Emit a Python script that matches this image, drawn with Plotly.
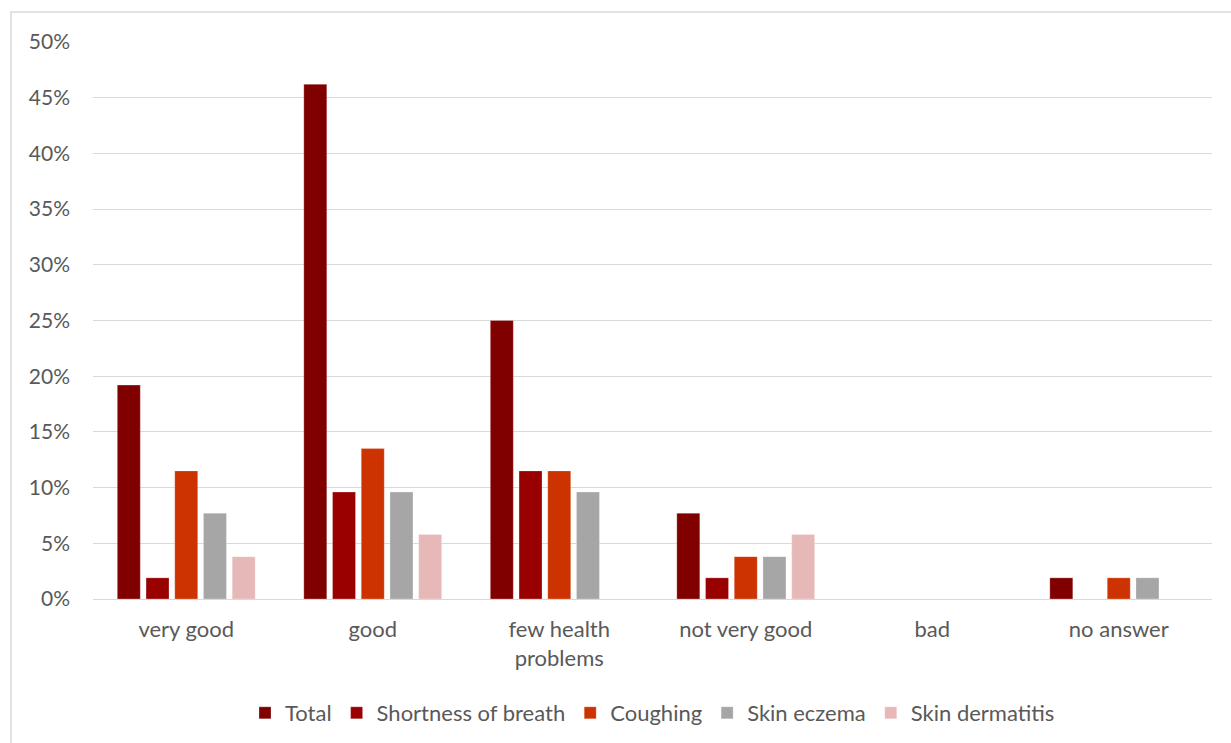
import plotly.graph_objects as go

categories = ["very good", "good", "few health<br>problems", "not very good", "bad", "no answer"]
series_names = ["Total", "Shortness of breath", "Coughing", "Skin eczema", "Skin dermatitis"]
total = [19.2, 46.2, 25.0, 7.7, 0.0, 1.9]
shortness_of_breath = [1.9, 9.6, 11.5, 1.9, 0.0, 0.0]
coughing = [11.5, 13.5, 11.5, 3.8, 0.0, 1.9]
skin_eczema = [7.7, 9.6, 9.6, 3.8, 0.0, 1.9]
skin_dermatitis = [3.8, 5.8, 0.0, 5.8, 0.0, 0.0]
y_ticks = [0, 5, 10, 15, 20, 25, 30, 35, 40, 45, 50]
y_tick_labels = [f"{v}%" for v in y_ticks]

colors = ["#800000", "#990000", "#CC3300", "#A6A6A6", "#E6B9B8"]
values = [total, shortness_of_breath, coughing, skin_eczema, skin_dermatitis]

FONT = "Lato, Carlito, Calibri, sans-serif"
TEXT = "#595959"

fig = go.Figure()
for name, vals, col in zip(series_names, values, colors):
    fig.add_trace(go.Bar(
        x=categories, y=vals, name=name,
        marker=dict(color=col, line=dict(color="rgba(255,255,255,0.5)", width=0.5)),
        hovertemplate="%{x}: %{y:.1f}%<extra>" + name + "</extra>",
    ))

W, H = 1231, 743
ml, mr, mt, mb = 93, 19, 42, 144
pw, ph = W - ml - mr, H - mt - mb

fig.update_layout(
    width=W, height=H,
    margin=dict(l=ml, r=mr, t=mt, b=mb, pad=0, autoexpand=False),
    paper_bgcolor="white", plot_bgcolor="white",
    barmode="group", bargap=0.23, bargroupgap=0.2,
    font=dict(family=FONT, size=21, color=TEXT),
    showlegend=True,
    legend=dict(orientation="h", x=0.5, xanchor="center",
                yref="container", y=1 - 713 / H, yanchor="middle",
                font=dict(family=FONT, size=22, color=TEXT),
                itemwidth=30, tracegroupgap=0, traceorder="normal"),
    xaxis=dict(showgrid=False, showline=False, ticks="", ticklabelstandoff=15,
               tickfont=dict(family=FONT, size=22, color=TEXT)),
    yaxis=dict(range=[0, 50], tickvals=y_ticks, ticktext=y_tick_labels,
               showgrid=True, gridcolor="#D9D9D9", gridwidth=1,
               zeroline=True, zerolinecolor="#D9D9D9", zerolinewidth=1,
               showline=False, ticks="", ticklabelstandoff=22,
               tickfont=dict(family=FONT, size=21, color=TEXT)),
    shapes=[dict(type="rect", xref="paper", yref="paper",
                 x0=(11 - ml) / pw, x1=1 + (mr + 20) / pw,
                 y0=-(mb + 20) / ph, y1=1 + (mt - 12) / ph,
                 line=dict(color="#D9D9D9", width=1.5), fillcolor="rgba(0,0,0,0)",
                 layer="below")],
)

fig.write_html("out.html")
